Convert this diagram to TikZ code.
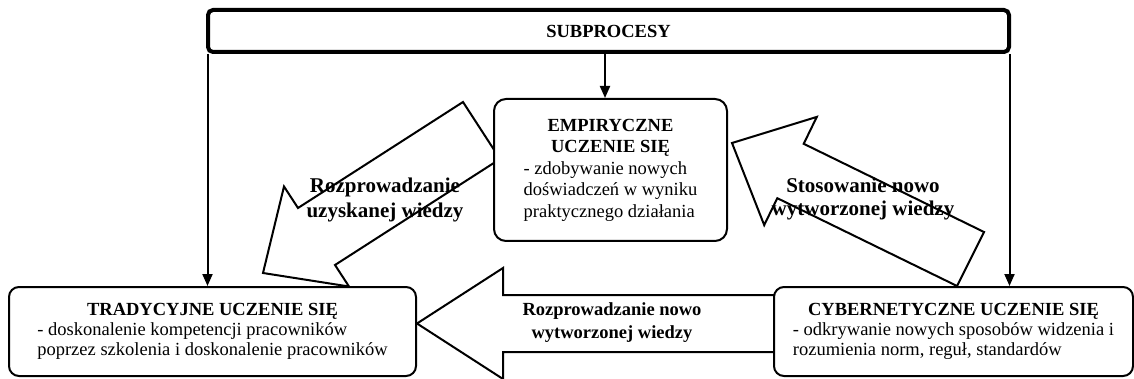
\documentclass[tikz,border=0pt]{standalone}
\usepackage{fontspec}
\setmainfont{Liberation Serif}
\usetikzlibrary{arrows.meta}

\newcommand{\fbody}{\fontsize{18.5}{20}\selectfont}
\newcommand{\fbodyloose}{\fontsize{18.5}{21.5}\selectfont}
\newcommand{\ctitle}[1]{\multicolumn{1}{@{}c@{}}{\bfseries #1}}

\tikzset{
  box/.style={draw, line width=2pt, rounded corners=10pt, fill=white,
              inner sep=0pt, align=center},
  blockarrow/.style={draw, line width=2pt, fill=white, line join=miter},
  feed/.style={line width=2pt, -{Triangle[length=12pt,width=10pt]}},
  flowtext/.style={align=center, inner sep=0pt},
}

\begin{document}
\begin{tikzpicture}[x=1pt,y=-1pt]
\useasboundingbox (0,0) rectangle (1134,379);

% wide arrows between the three kinds of learning
\draw[blockarrow] (463,102) -- (500,159) -- (335,265) -- (349,286.5)
  -- (263,273) -- (284,186.5) -- (298,208) -- cycle;
\draw[blockarrow] (732,143) -- (816.8,116.9) -- (803.7,143.8) -- (984,232)
  -- (957,286) -- (777.3,198.2) -- (764.2,225.1) -- cycle;
\draw[blockarrow] (417,323.5) -- (503,268) -- (503,295) -- (774,295)
  -- (774,352) -- (503,352) -- (503,379) -- cycle;

% boxes
\node[box, rounded corners=5pt, line width=4pt, minimum width=801pt,
      minimum height=42pt] (sub) at (608.5,31)
  {\fbody\bfseries SUBPROCESY};

\node[box, rounded corners=12pt, minimum width=233pt, minimum height=142pt]
  (emp) at (610.5,170)
  {\fbodyloose\begin{tabular}{@{}l@{}}
    \ctitle{EMPIRYCZNE}\\
    \ctitle{UCZENIE SIĘ}\\
    - zdobywanie nowych\\
    doświadczeń w wyniku\\
    praktycznego działania
  \end{tabular}};

\node[box, minimum width=407pt, minimum height=89pt] (trad) at (212.5,331.5)
  {\fbody\begin{tabular}{@{}l@{}}
    \ctitle{TRADYCYJNE UCZENIE SIĘ}\\
    - doskonalenie kompetencji pracowników\\
    poprzez szkolenia i doskonalenie pracowników
  \end{tabular}};

\node[box, minimum width=359pt, minimum height=89pt] (cyb) at (953.5,331.5)
  {\fbody\begin{tabular}{@{}l@{}}
    \ctitle{CYBERNETYCZNE UCZENIE SIĘ}\\
    - odkrywanie nowych sposobów widzenia i\\
    rozumienia norm, reguł, standardów
  \end{tabular}};

% labels on the wide arrows
\node[flowtext, font=\fontsize{21}{25}\selectfont\bfseries] (spread) at (385,200)
  {Rozprowadzanie\\uzyskanej wiedzy};
\node[flowtext, font=\fontsize{21}{23}\selectfont\bfseries] (apply) at (863,199)
  {Stosowanie nowo\\wytworzonej wiedzy};
\node[flowtext, font=\fontsize{18.5}{23}\selectfont\bfseries] (spreadnew) at (612,322.5)
  {Rozprowadzanie nowo\\wytworzonej wiedzy};

% connectors from the subprocess bar
\coordinate (midtop) at ([xshift=-5.5pt]emp.north);
\draw[feed] ([xshift=1.5pt]sub.south west) -- ([xshift=1.5pt]sub.south west |- trad.north);
\draw[feed] ([xshift=-1.5pt]sub.south east) -- ([xshift=-1.5pt]sub.south east |- cyb.north);
\draw[feed] (sub.south -| midtop) -- (midtop);
\end{tikzpicture}
\end{document}
